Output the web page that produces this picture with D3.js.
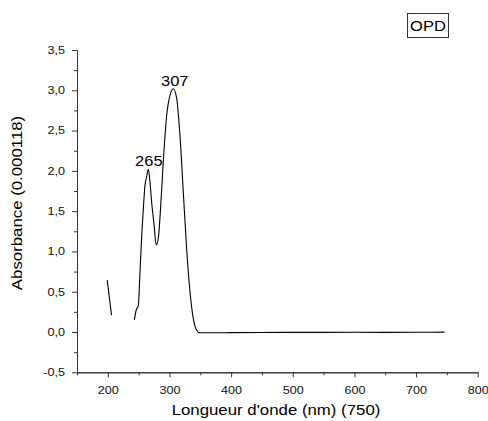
<!doctype html>
<meta charset='utf-8'>
<title>OPD spectre</title>
<style type="text/css">
	body { margin:0; background:white; }
	svg { font-family:'Liberation Sans', Arial, sans-serif; }
	.axis path, .axis line { stroke:#333; stroke-width:1px; }
	.axis text { font-size:10.5px; fill:#111; }
</style>
<div id='container'></div>
<script src="https://cdnjs.cloudflare.com/ajax/libs/d3/7.8.5/d3.min.js" charset="utf-8"></script>
<script>

	// longueur d'onde (nm) -- null = coupure dans le tracé
	var wavelength = [199, 206, null,
		243, 246, 249.5, 252, 255, 257.6, 260.3, 263, 265.7, 268.4, 271, 275, 278.6,
		282, 285.7, 290, 295.5, 300.9, 306.3, 311.7, 317, 322.4, 327.8, 333.3, 338.6,
		344, 349.5, 365, 400, 450, 500, 550, 600, 650, 700, 746]
	var absorbance = [0.645, 0.21, null,
		0.15, 0.27, 0.33, 0.71, 1.20, 1.53, 1.82, 1.93, 2.02, 1.86, 1.62, 1.33, 1.08,
		1.17, 1.55, 2.12, 2.69, 2.94, 3.02, 2.90, 2.44, 1.74, 1.04, 0.50, 0.17,
		0.025, -0.01, -0.01, -0.008, -0.006, -0.004, -0.004, -0.003, -0.005, -0.003, -0.002]

	var xTicks = [200, 300, 400, 500, 600, 700, 800]
	var yTicks = [-0.5, 0, 0.5, 1, 1.5, 2, 2.5, 3, 3.5]
	var peaks = [{wl:265, a:2.02, label:'265'}, {wl:307, a:3.02, label:'307'}]

	var W = 488, H = 421
	var svg = d3.select('#container').append('svg')
		.attr('width', W).attr('height', H)

	var x = d3.scaleLinear().domain([150, 800]).range([77, 477.7])
	var y = d3.scaleLinear().domain([-0.5, 3.5]).range([372.3, 50])

	var fmt = function(d) { return d3.format('.1f')(d).replace('.', ',').replace('−', '-') }

	// le texte de l'original est plus large que la police : on l'étire
	function widen(k) {
		return function(sel) {
			sel.each(function() {
				var w = this.getComputedTextLength()
				d3.select(this).attr('textLength', w * k).attr('lengthAdjust', 'spacingAndGlyphs')
			})
		}
	}

	// axes (majeurs + mineurs)
	var xMinor = d3.range(150, 801, 50).filter(function(d){ return xTicks.indexOf(d) < 0 })
	var yMinor = d3.range(-0.25, 3.5, 0.5)

	svg.append('g').attr('class', 'axis')
		.attr('transform', 'translate(0,' + y(-0.5) + ')')
		.call(d3.axisBottom(x).tickValues(xMinor).tickSize(3).tickFormat('').tickSizeOuter(0))
	svg.append('g').attr('class', 'axis')
		.attr('transform', 'translate(0,' + y(-0.5) + ')')
		.call(d3.axisBottom(x).tickValues(xTicks).tickSize(5).tickPadding(9).tickSizeOuter(0))
		.selectAll('text').call(widen(1.2))

	svg.append('g').attr('class', 'axis')
		.attr('transform', 'translate(' + x(150) + ',0)')
		.call(d3.axisLeft(y).tickValues(yMinor).tickSize(3).tickFormat('').tickSizeOuter(0))
	svg.append('g').attr('class', 'axis')
		.attr('transform', 'translate(' + x(150) + ',0)')
		.call(d3.axisLeft(y).tickValues(yTicks).tickSize(5).tickPadding(7).tickFormat(fmt).tickSizeOuter(0))
		.selectAll('text').call(widen(1.2))

	// courbe
	var pts = wavelength.map(function(w, i){ return [w, absorbance[i]] })
	var line = d3.line()
		.defined(function(d){ return d[0] !== null })
		.x(function(d){ return x(d[0]) })
		.y(function(d){ return y(d[1]) })
		.curve(d3.curveMonotoneX)

	svg.append('path').datum(pts)
		.attr('d', line)
		.style('fill', 'none').style('stroke', '#000').style('stroke-width', '1.1px')

	// étiquettes des pics
	svg.selectAll('.peak').data(peaks).enter().append('text')
		.attr('class', 'peak')
		.attr('x', function(d){ return x(d.wl) + 1 })
		.attr('y', function(d){ return y(d.a) - 3 })
		.attr('text-anchor', 'middle')
		.style('font-size', '15px')
		.text(function(d){ return d.label })
		.call(widen(1.1))

	// titres
	svg.append('text')
		.attr('x', 276).attr('y', 415)
		.attr('text-anchor', 'middle')
		.style('font-size', '14px')
		.text("Longueur d'onde (nm) (750)")
		.call(widen(1.2))

	svg.append('text')
		.attr('transform', 'translate(22,203) rotate(-90)')
		.attr('text-anchor', 'middle')
		.style('font-size', '14px')
		.text('Absorbance (0.000118)')
		.call(widen(1.2))

	// légende
	svg.append('rect')
		.attr('x', 407.5).attr('y', 13.5).attr('width', 41).attr('height', 24)
		.style('fill', 'white').style('stroke', '#333').style('stroke-width', '1px')
	svg.append('text')
		.attr('x', 428).attr('y', 31)
		.attr('text-anchor', 'middle')
		.style('font-size', '15px')
		.text('OPD')
		.call(widen(1.1))

</script>
